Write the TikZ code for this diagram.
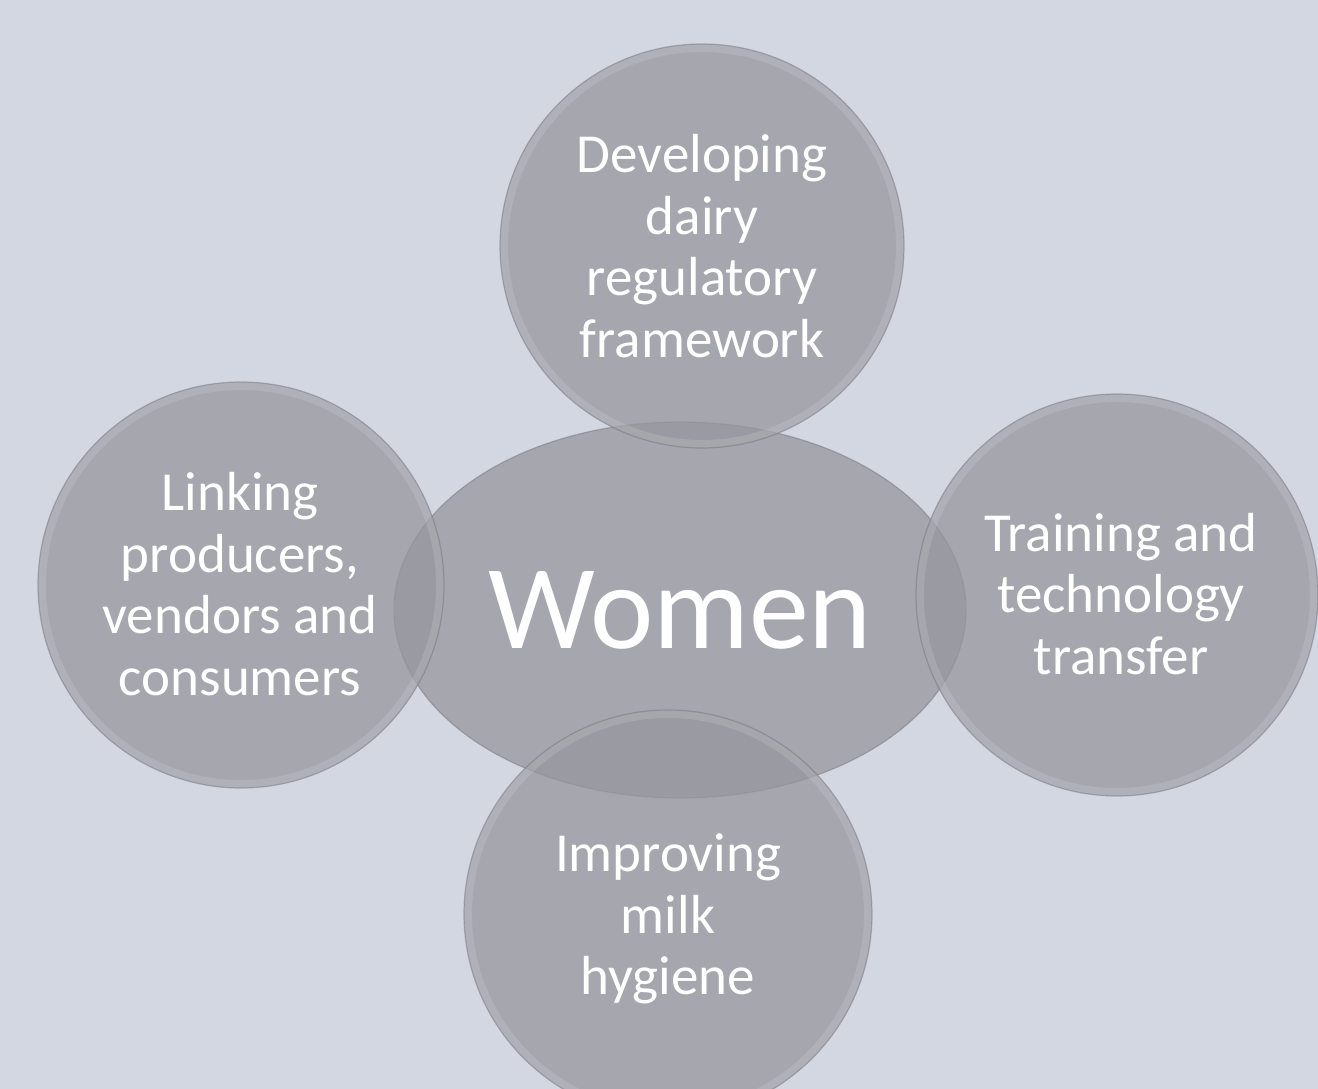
\documentclass[tikz,border=0pt]{standalone}
\usepackage{fontspec}
\setmainfont{Carlito}
\usetikzlibrary{shapes.geometric}
\definecolor{bgc}{RGB}{211,215,226}
\definecolor{discc}{RGB}{151,150,158}
\definecolor{rimc}{RGB}{118,118,126}
\tikzset{
  disc/.style={fill=discc, fill opacity=0.75, draw=rimc, draw opacity=0.5,
    line width=1.2pt, inner sep=0pt, text opacity=1},
  glass/.style={path picture={\draw[white, opacity=0.12, line width=10pt]
    (path picture bounding box.center) circle[radius=#1];}},
  lbl/.style={text=white, align=center, inner sep=0pt,
    font=\fontsize{55}{61.5}\selectfont},
}
\begin{document}
\begin{tikzpicture}[x=1pt,y=-1pt]
\fill[bgc] (0,0) rectangle (1318,1089);
\useasboundingbox (0,0) rectangle (1318,1089);
% central ellipse
\node[disc, ellipse, minimum width=572pt, minimum height=376pt] (women) at (680,610) {};
% outer circles
\node[disc, circle, minimum size=404pt, glass=199pt] (topc) at (702,246) {};
\node[disc, circle, minimum size=406pt, glass=200pt] (leftc) at (241,585) {};
\node[disc, circle, minimum size=402pt, glass=198pt] (rightc) at (1117,595) {};
\node[disc, circle, minimum size=408pt, glass=201pt] (botc) at (668,914) {};
% labels
\node[text=white, inner sep=0pt, font=\fontsize{120}{140}\selectfont] (wl) at (women.center) {Women};
\node[lbl] (tl) at (702,246) {Developing\\dairy\\regulatory\\framework};
\node[lbl] (ll) at (240,584) {Linking\\producers,\\vendors and\\consumers};
\node[lbl] (rl) at (1121,594) {Training and\\technology\\transfer};
\node[lbl] (bl) at (668,919) {Improving\\milk\\hygiene};
\end{tikzpicture}
\end{document}
